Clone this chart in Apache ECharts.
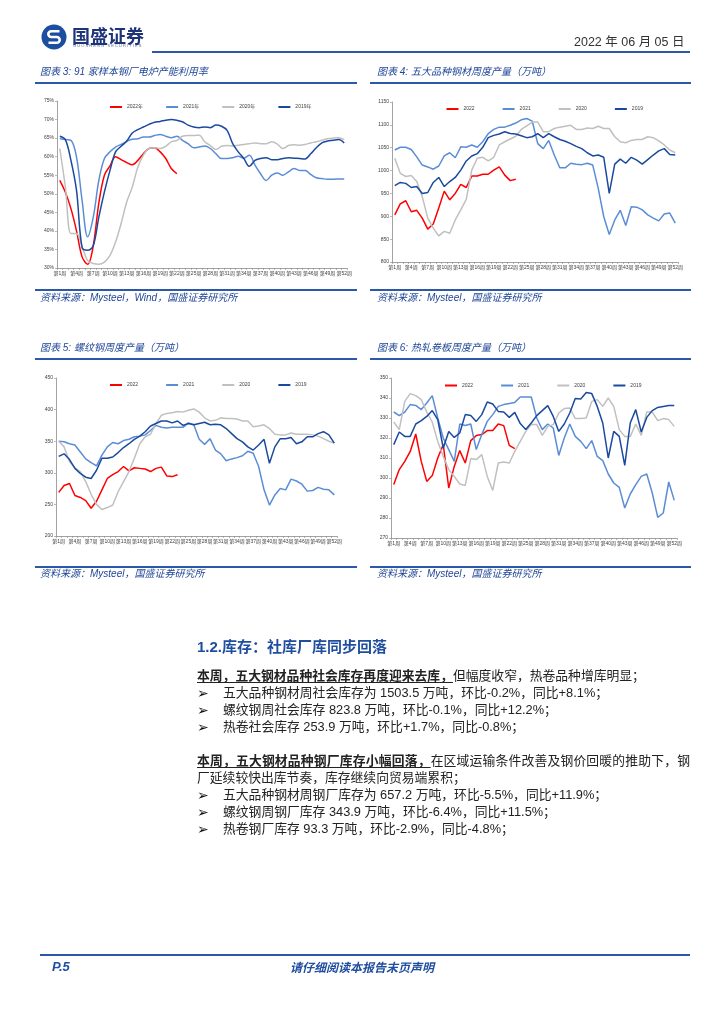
<!DOCTYPE html>
<html><head><meta charset="utf-8">
<script src="https://cdn.jsdelivr.net/npm/echarts@6/dist/echarts.min.js"></script>
<style>
body{margin:0;background:#fff;}
#page{position:relative;width:724px;height:1024px;overflow:hidden;background:#fff;font-family:"Liberation Sans","Noto Sans CJK SC",sans-serif;}
#chart{position:absolute;left:0;top:0;width:724px;height:1024px;}
.abs{position:absolute;white-space:nowrap;}
.hl{position:absolute;height:2px;background:#2B58A8;}
.ttl{position:absolute;white-space:nowrap;font-size:10px;line-height:12px;font-style:italic;color:#1F4597;}
.src{position:absolute;white-space:nowrap;font-size:10px;line-height:12px;font-style:italic;color:#1F4597;}
#body{position:absolute;left:197px;top:666.5px;width:493px;font-size:12.8px;line-height:17px;color:#222;}
#body div{white-space:nowrap;position:relative;}
.bu{font-weight:700;text-decoration:underline;text-decoration-thickness:1px;text-underline-offset:2px;}
.li{padding-left:26px;}
.ar{position:absolute;left:0;top:1.5px;font-family:"DejaVu Sans";font-size:14px;line-height:17px;color:#111;}
.just{text-align:justify;text-align-last:justify;width:493px;}
</style></head>
<body>
<div id="page">
<div id="chart"></div>
<svg class="abs" style="left:41px;top:24px" width="26" height="26" viewBox="0 0 26 26">
<circle cx="13" cy="13" r="12.5" fill="#1B4DA0"/>
<path d="M18.5 7.2 H10.2 a2.9 2.9 0 0 0 0 5.8 h5.6 a2.9 2.9 0 0 1 0 5.8 H7.5" stroke="#fff" stroke-width="2.6" fill="none"/>
</svg>
<div class="abs" style="left:72px;top:25px;font-size:18px;line-height:20px;font-weight:700;color:#1d3478;font-family:'Noto Sans CJK SC';">国盛证券</div>
<div class="abs" style="left:574px;top:35px;font-size:12.5px;line-height:15px;color:#333;">2022 年 06 月 05 日</div>
<div class="hl" style="left:152px;top:51px;width:538px;"></div>

<div class="ttl" style="left:40px;top:66px;">图表 3: 91 家样本钢厂电炉产能利用率</div>
<div class="ttl" style="left:377px;top:66px;">图表 4: 五大品种钢材周度产量（万吨）</div>
<div class="hl" style="left:35px;top:82px;width:322px;"></div>
<div class="hl" style="left:370px;top:82px;width:321px;"></div>
<div class="hl" style="left:35px;top:289px;width:322px;"></div>
<div class="hl" style="left:370px;top:289px;width:321px;"></div>
<div class="src" style="left:40px;top:292px;">资料来源：Mysteel，Wind，国盛证券研究所</div>
<div class="src" style="left:377px;top:292px;">资料来源：Mysteel，国盛证券研究所</div>

<div class="ttl" style="left:40px;top:342px;">图表 5: 螺纹钢周度产量（万吨）</div>
<div class="ttl" style="left:377px;top:342px;">图表 6: 热轧卷板周度产量（万吨）</div>
<div class="hl" style="left:35px;top:358px;width:322px;"></div>
<div class="hl" style="left:370px;top:358px;width:321px;"></div>
<div class="hl" style="left:35px;top:566px;width:322px;"></div>
<div class="hl" style="left:370px;top:566px;width:321px;"></div>
<div class="src" style="left:40px;top:568px;">资料来源：Mysteel，国盛证券研究所</div>
<div class="src" style="left:377px;top:568px;">资料来源：Mysteel，国盛证券研究所</div>

<div class="abs" style="left:197px;top:638px;font-size:15px;line-height:17px;font-weight:700;color:#1F4E9E;">1.2.库存：社库厂库同步回落</div>
<div id="body">
<div><span class="bu">本周，五大钢材品种社会库存再度迎来去库，</span>但幅度收窄，热卷品种增库明显；</div>
<div class="li"><span class="ar">➢</span>五大品种钢材周社会库存为 1503.5 万吨，环比-0.2%，同比+8.1%；</div>
<div class="li"><span class="ar">➢</span>螺纹钢周社会库存 823.8 万吨，环比-0.1%，同比+12.2%；</div>
<div class="li"><span class="ar">➢</span>热卷社会库存 253.9 万吨，环比+1.7%，同比-0.8%；</div>
<div>&nbsp;</div>
<div class="just"><span class="bu">本周，五大钢材品种钢厂库存小幅回落，</span>在区域运输条件改善及钢价回暖的推助下，钢</div>
<div>厂延续较快出库节奏，库存继续向贸易端累积；</div>
<div class="li"><span class="ar">➢</span>五大品种钢材周钢厂库存为 657.2 万吨，环比-5.5%，同比+11.9%；</div>
<div class="li"><span class="ar">➢</span>螺纹钢周钢厂库存 343.9 万吨，环比-6.4%，同比+11.5%；</div>
<div class="li"><span class="ar">➢</span>热卷钢厂库存 93.3 万吨，环比-2.9%，同比-4.8%；</div>
</div>

<div class="hl" style="left:40px;top:954px;width:650px;"></div>
<div class="abs" style="left:52px;top:959px;font-size:13px;line-height:15px;font-weight:700;font-style:italic;color:#1F4E9E;">P.5</div>
<div class="abs" style="left:290px;top:959px;font-size:12px;line-height:15px;font-weight:700;font-style:italic;color:#1F4E9E;font-family:'Noto Sans CJK SC';">请仔细阅读本报告末页声明</div>
</div>

<script>
const weeks = ['第1周','第2周','第3周','第4周','第5周','第6周','第7周','第8周','第9周','第10周','第11周','第12周','第13周','第14周','第15周','第16周','第17周','第18周','第19周','第20周','第21周','第22周','第23周','第24周','第25周','第26周','第27周','第28周','第29周','第30周','第31周','第32周','第33周','第34周','第35周','第36周','第37周','第38周','第39周','第40周','第41周','第42周','第43周','第44周','第45周','第46周','第47周','第48周','第49周','第50周','第51周','第52周'];
const namesEAF = ['2022年','2021年','2020年','2019年'];
const namesYear = ['2022','2021','2020','2019'];

// 图表3 电炉产能利用率 (%)
const eaf2022 = [53.6,50.4,46,40,33,31,36,47.5,55,57.5,60,59.2,58.4,57.8,59,60.8,62.2,62.4,61.3,59.5,56.8,55.4];
const eaf2021 = [64.9,64.6,64.4,59.9,48.2,38.4,43.7,53.6,59.5,61.3,62.6,63.3,64.1,64.7,64.8,65.3,65.3,65.7,66,65.5,65.1,65.5,64.4,63.5,62.4,62.6,62.9,62.2,60.8,59.5,59.5,59.7,60.1,59.6,60.4,57.7,55.4,53.6,55,55.6,55,55.9,56.8,56.3,56.3,55.2,54.3,54.1,53.9,53.9,54,54];
const eaf2020 = [62.2,51.8,39.3,39.3,35.7,32,31.2,31,31.6,33.4,37,42,47.8,51.8,57.2,60.4,62.2,62.4,62.2,62.8,64,64.4,65.5,65.7,65.7,65.8,64,63,61.9,62.8,63,62.9,63.1,63.3,63.5,63.7,63.5,63.5,64,63.4,62.2,63,63.2,63.1,63.3,63.7,64,64.4,64.8,65,65.1,64.6];
const eaf2019 = [65.5,64.6,59,50.9,35.5,34.8,36,43.7,50.5,56.3,61.3,62.8,64.2,66.4,67.3,68,68.7,69.3,69.5,69.8,70,69.8,69.4,68.5,68,67.8,68,67.8,68.5,68.2,67.1,63.5,61.3,59.5,57.4,59,59.5,59.7,59.2,59.2,59.5,59.7,59.6,59.5,59.4,60.8,62.4,63.7,64.2,64.4,64.6,63.7];

// 图表4 五大品种钢材周度产量 (万吨)
const five2022 = [903,927,934,910,913,896,872,883,918,955,936,950,970,963,988,988,992,992,1001,1008,990,978,981];
const five2021 = [1045,1051,1051,1046,1030,1012,1008,1003,1010,1032,1039,1028,1052,1051,1056,1051,1063,1081,1090,1095,1095,1099,1104,1111,1114,1108,1059,1048,1066,1034,1006,1006,1016,1014,1013,1016,1012,961,899,860,892,913,880,921,920,914,903,896,890,905,907,885];
const five2020 = [1027,994,987,989,976,943,896,874,857,867,863,892,914,937,1001,1027,1029,1021,1029,1056,1063,1069,1075,1090,1098,1106,1106,1085,1085,1092,1095,1097,1099,1090,1090,1093,1092,1097,1092,1092,1074,1063,1061,1066,1068,1068,1074,1072,1065,1056,1045,1039];
const five2019 = [967,974,972,963,965,950,952,974,985,965,976,985,1001,1021,1032,1037,1051,1072,1077,1080,1085,1081,1080,1076,1072,1074,1081,1072,1081,1074,1068,1064,1059,1053,1048,1039,1032,1034,1029,950,1014,1025,1016,1029,1023,1014,1024,1034,1043,1048,1035,1034];

// 图表5 螺纹钢周度产量 (万吨)
const rebar2022 = [269,280,283,264,261,256,244,255,273,291,297,302,310,303,308,307,306,302,307,309,295,294,297];
const rebar2021 = [350,349,346,344,333,322,316,311,328,341,348,346,351,353,357,358,360,367,375,372,371,372,372,372,379,376,353,345,354,336,330,319,322,324,327,334,331,310,273,249,265,275,273,290,287,282,271,272,277,274,273,265];
const rebar2020 = [350,341,318,308,302,286,266,250,242,245,249,270,286,302,323,346,357,361,378,391,394,395,397,396,399,401,396,387,382,383,387,386,386,385,382,382,373,374,376,370,361,360,360,363,361,361,361,360,358,354,350,347];
const rebar2019 = [326,330,321,307,299,293,291,304,323,323,325,332,340,346,353,358,365,374,378,382,382,379,382,375,378,376,378,380,376,377,376,370,362,354,349,341,336,344,353,315,341,354,354,356,346,349,357,357,362,365,360,347];

// 图表6 热轧卷板周度产量 (万吨)
const hrc2022 = [296.7,304.2,308.3,313.3,322,308.3,298.3,301.2,310,316.7,295,305.8,313.7,307.5,318.7,321.2,321.7,323.7,323.7,327,326.2,316.3,314.7];
const hrc2021 = [333,331.2,333,336.7,336.3,334.2,337.5,341.2,330,320,314.2,308.3,327,326.3,327,314.2,321.7,328.3,331.7,335.8,336.7,337.2,337.8,340.5,340.5,340.5,330,324.2,327,325,311.3,320,327,320.8,318.3,314.7,318.7,310.8,308.7,302,297.5,295.3,285,292,296.7,300.8,302,292.5,280.3,282.5,298,288.8];
const hrc2020 = [328,324.2,338.3,342.2,341.2,339.2,333,328,318.3,310.8,304.2,300.8,297,296.3,309.7,309.2,311.7,300.8,293.8,307.5,308,307.5,313.3,318.3,323.3,326.7,326.7,321.3,325.8,326.7,332.5,334.7,335,329.7,329.7,330,338.3,339.2,335.8,340,335.8,324.2,320.8,320.8,327,321.3,333,333,328.7,329.7,329.2,325.8];
const hrc2019 = [316.7,323,320.8,320.8,327,328.7,330.8,333.7,329.2,315,323.3,320.3,322.5,331.7,331.3,328.3,331.7,338,337,333.3,333,330.3,332.8,327.2,324.2,327.5,331.2,333.7,336.2,330.8,323.3,327,332.5,339.7,339.5,342.8,342.2,335.8,327.5,310,323.3,320.8,306.3,327.5,334.2,323,330.3,333.7,335.3,335.8,336.2,336.3];

const colors = ['#FF0000','#5B8DD6','#C0C0C0','#1A4A9E'];
const axisColor = '#8C8C8C';
const labelColor = '#404040';
const fontFam = 'Liberation Sans, Noto Sans CJK SC';

const panels = [
  {grid:{left:57,top:101,width:290,height:167}, min:30,max:75,interval:5, fmt:v=>v+'%', names:namesEAF, data:[eaf2022,eaf2021,eaf2020,eaf2019], smooth:0.35, legend:{left:110,top:104.5,gap:23}},
  {grid:{left:392,top:102,width:286,height:160}, min:800,max:1150,interval:50, fmt:v=>String(v), names:namesYear, data:[five2022,five2021,five2020,five2019], smooth:false, legend:{left:446.5,top:106.5,gap:28}},
  {grid:{left:56,top:378,width:281,height:158}, min:200,max:450,interval:50, fmt:v=>String(v), names:namesYear, data:[rebar2022,rebar2021,rebar2020,rebar2019], smooth:false, legend:{left:110,top:382.5,gap:28}},
  {grid:{left:391,top:378,width:286,height:160}, min:270,max:350,interval:10, fmt:v=>String(v), names:namesYear, data:[hrc2022,hrc2021,hrc2020,hrc2019], smooth:false, legend:{left:445,top:383,gap:28}}
];

const option = {
  animation:false,
  backgroundColor:'transparent',
  grid:[], xAxis:[], yAxis:[], legend:[], series:[],
  graphic:[{type:'text', left:73, top:43.5, z:100, style:{text:'G U O S H E N G   S E C U R I T I E S', fontSize:4, fill:'#5a6a8a', fontFamily:'Liberation Sans'}}]
};

panels.forEach((p,i)=>{
  option.grid.push(Object.assign({containLabel:false}, p.grid));
  option.xAxis.push({type:'category', gridIndex:i, data:weeks, boundaryGap:true,
    axisLine:{lineStyle:{color:axisColor,width:0.8}},
    axisTick:{show:true, interval:0, length:2, lineStyle:{color:axisColor,width:0.6}},
    axisLabel:{interval:2, fontSize:5, color:labelColor, margin:3, fontFamily:fontFam},
    splitLine:{show:false}});
  option.yAxis.push({type:'value', gridIndex:i, min:p.min, max:p.max, interval:p.interval,
    axisLine:{show:true, lineStyle:{color:axisColor,width:0.8}},
    axisTick:{show:true, length:2, lineStyle:{color:axisColor,width:0.6}},
    axisLabel:{fontSize:5, color:labelColor, margin:3, formatter:p.fmt, fontFamily:fontFam},
    splitLine:{show:false}});
  option.legend.push({left:p.legend.left, top:p.legend.top, padding:0, orient:'horizontal',
    itemWidth:12, itemHeight:2, icon:'rect', itemGap:p.legend.gap, selectedMode:false,
    textStyle:{fontSize:5, color:labelColor, fontFamily:fontFam},
    data:p.names});
  p.data.forEach((arr,k)=>{
    option.series.push({name:p.names[k], type:'line', xAxisIndex:i, yAxisIndex:i, data:arr,
      symbol:'none', smooth:p.smooth, z:2+k,
      lineStyle:{width:1.5, color:colors[k]}, itemStyle:{color:colors[k]}});
  });
});

const chart = echarts.init(document.getElementById('chart'), null, {renderer:'canvas'});
chart.setOption(option);
</script>
</body></html>
